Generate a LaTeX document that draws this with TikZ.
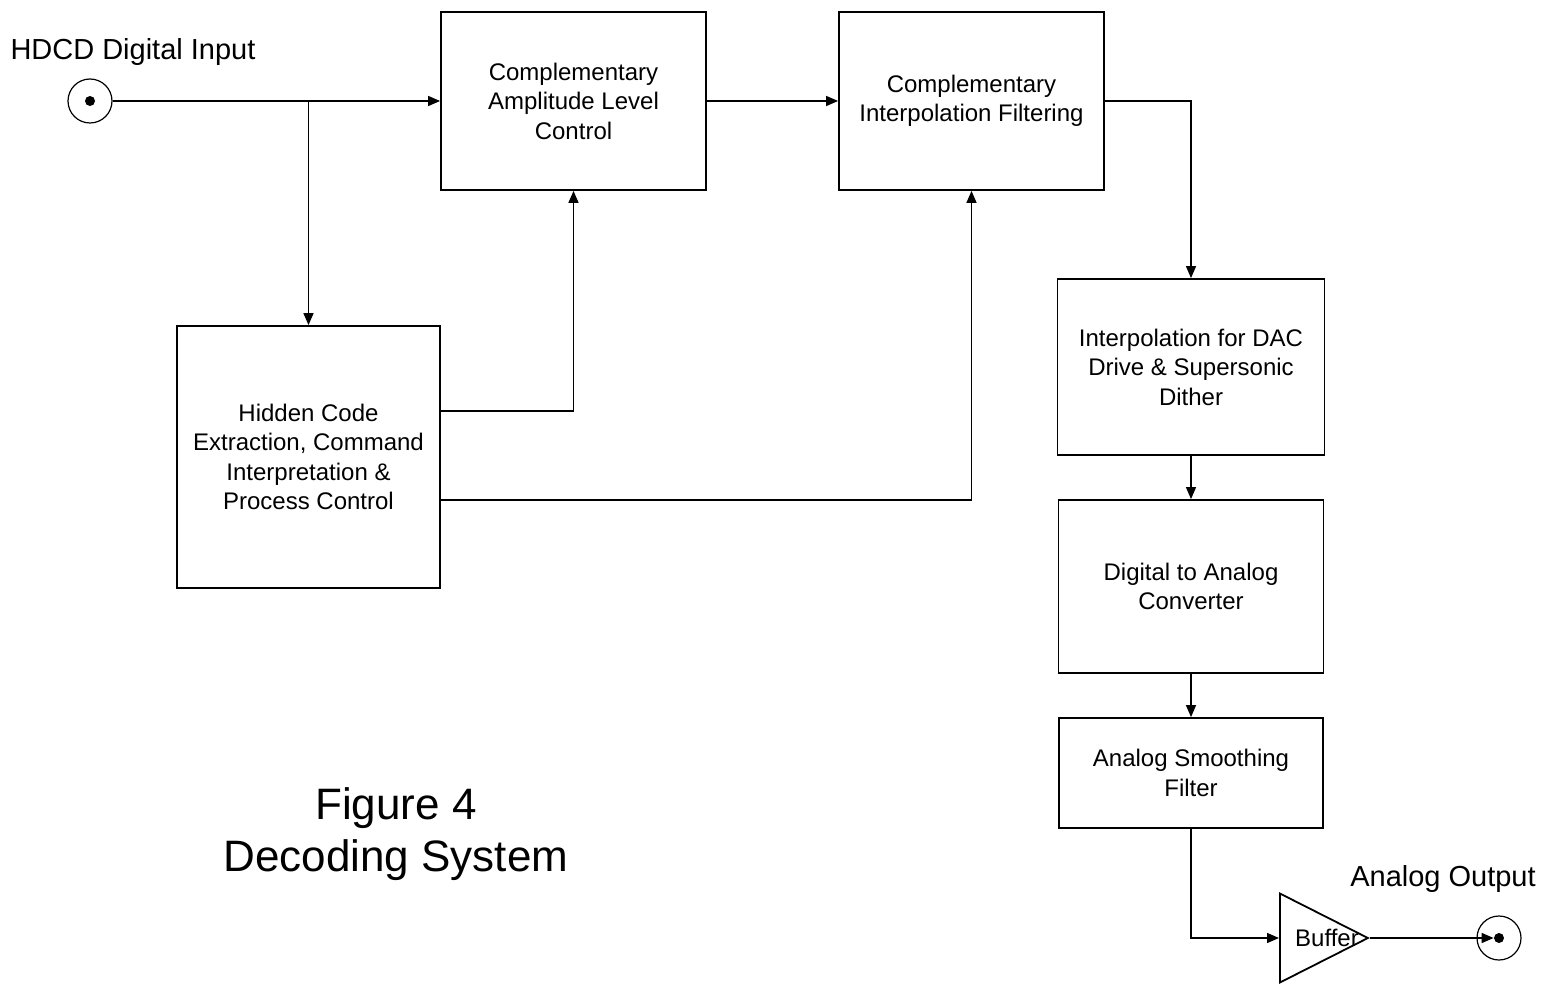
\documentclass[tikz,border=0pt]{standalone}
\usepackage{fontspec}
\setmainfont{Liberation Sans}
\usetikzlibrary{arrows.meta,shapes.geometric}

\begin{document}
\begin{tikzpicture}[x=0.5pt,y=-0.5pt,
    block/.style={draw,line width=0.9pt,align=center,inner sep=0pt,
        font=\fontsize{12}{14.75}\selectfont},
    link/.style={line width=0.7pt,-{Triangle[length=6pt,width=5pt]}},
    jack/.style={draw,circle,line width=0.6pt,minimum size=22pt,inner sep=0pt},
    pin/.style={fill,circle,minimum size=5pt,inner sep=0pt},
    label/.style={font=\fontsize{14.5}{17}\selectfont}]
    \useasboundingbox (0,0) rectangle (1547,984);

    % Input jack
    \node[label] (inlabel) at (133,52) {HDCD Digital Input};
    \node[jack] (in) at (90,101) {};
    \node[pin] (inpin) at (in) {};

    % Upper row
    \node[block,minimum width=132.5pt,minimum height=89pt] (ampl) at (573.5,101)
        {Complementary\\Amplitude Level\\Control};
    \node[block,minimum width=132.5pt,minimum height=89pt] (interp) at (971.5,101)
        {Complementary\\Interpolation Filtering};

    % Control block
    \node[block,minimum width=131.5pt,minimum height=131pt] (hidden) at (308.5,457)
        {Hidden Code\\Extraction, Command\\Interpretation \&\\Process Control};

    % Right column
    \node[block,minimum width=133.5pt,minimum height=88pt] (dacdrv) at (1191,367)
        {Interpolation for DAC\\Drive \& Supersonic\\Dither};
    \node[block,minimum width=132.5pt,minimum height=86.5pt] (dac) at (1191,586.5)
        {Digital to Analog\\Converter};
    \node[block,minimum width=132pt,minimum height=55pt] (smooth) at (1191,773)
        {Analog Smoothing\\Filter};

    % Buffer and output jack
    \node[draw,line width=0.9pt,isosceles triangle,isosceles triangle stretches,
        minimum width=44.5pt,minimum height=44pt,inner sep=0pt,anchor=west] (buf) at (1279,938) {};
    \node[font=\fontsize{12}{14}\selectfont] (buflabel) at (1327,938) {Buffer};
    \node[label] (outlabel) at (1443,879) {Analog Output};
    \node[jack] (out) at (1499,938) {};
    \node[pin] (outpin) at (out) {};

    % Caption
    \node[align=center,font=\fontsize{22}{26}\selectfont] (caption) at (396,834)
        {Figure 4\\Decoding System};

    % Signal path
    \draw[link] (in.east) -- (ampl.west);
    \draw[link] (hidden.north |- in.east) -- (hidden.north);
    \draw[link] (ampl.east) -- (interp.west);
    \draw[link] (interp.east) -| (dacdrv.north);
    \draw[link] ([yshift=23pt]hidden.east) -| (ampl.south);
    \draw[link] ([yshift=-21.5pt]hidden.east) -| (interp.south);
    \draw[link] (dacdrv.south) -- (dac.north);
    \draw[link] (dac.south) -- (smooth.north);
    \draw[link] (smooth.south) |- (buf.west);
    \draw[link] (buf.east) -- (outpin);
\end{tikzpicture}
\end{document}
